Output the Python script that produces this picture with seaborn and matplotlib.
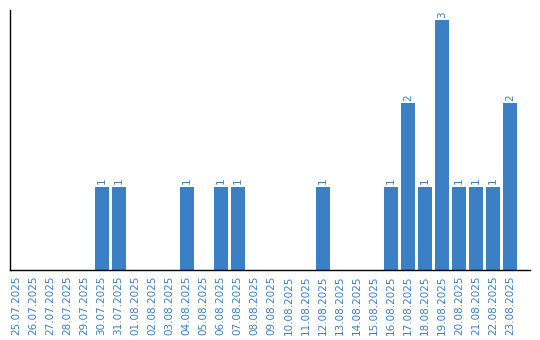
import matplotlib
matplotlib.use("Agg")
import matplotlib.pyplot as plt
import pandas as pd
import seaborn as sns

DATES = [
    "25.07.2025", "26.07.2025", "27.07.2025", "28.07.2025", "29.07.2025",
    "30.07.2025", "31.07.2025", "01.08.2025", "02.08.2025", "03.08.2025",
    "04.08.2025", "05.08.2025", "06.08.2025", "07.08.2025", "08.08.2025",
    "09.08.2025", "10.08.2025", "11.08.2025", "12.08.2025", "13.08.2025",
    "14.08.2025", "15.08.2025", "16.08.2025", "17.08.2025", "18.08.2025",
    "19.08.2025", "20.08.2025", "21.08.2025", "22.08.2025", "23.08.2025",
]
COUNTS = [0, 0, 0, 0, 0, 1, 1, 0, 0, 0,
          1, 0, 1, 1, 0, 0, 0, 0, 1, 0,
          0, 0, 1, 2, 1, 3, 1, 1, 1, 2]

BLUE = "#3b7fc4"

sns.set_theme(style="white")
plt.rcParams["font.family"] = ["DejaVu Sans"]

df = pd.DataFrame({"date": DATES, "count": COUNTS})

fig = plt.figure(figsize=(5.4, 3.4), dpi=100)
ax = fig.add_axes([10 / 540, 70 / 340, 520 / 540, 260 / 340])
sns.barplot(data=df, x="date", y="count", color=BLUE, saturation=1, width=0.82,
            linewidth=0, ax=ax)

for i, v in enumerate(COUNTS):
    if v > 0:
        ax.text(i, v + 0.03, str(v), rotation=90, ha="center", va="bottom",
                color=BLUE, fontsize=7.5)

# a little room is left after the last day, like the original
ax.set_xlim(-0.38, 30.18)
ax.set_ylim(0, 3.12)
ax.set_yticks([])
ax.set_xlabel("")
ax.set_ylabel("")
ax.tick_params(axis="x", labelrotation=90, labelsize=7.5, labelcolor=BLUE,
               length=0, pad=4)
for lbl in ax.get_xticklabels():
    lbl.set_va("top")
sns.despine(ax=ax)
for side in ["left", "bottom"]:
    ax.spines[side].set_color("black")
    ax.spines[side].set_linewidth(1.0)

fig.savefig("out.png", dpi=100)
